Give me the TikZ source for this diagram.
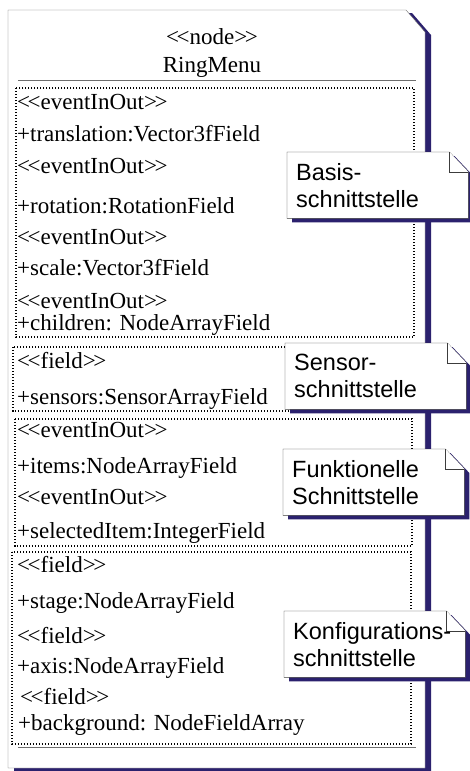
\documentclass[tikz,border=0pt]{standalone}
\usepackage{fontspec}
\setmainfont{Liberation Serif}
\newfontfamily\notizfont{Liberation Sans}
\usepackage{tikz}
\usetikzlibrary{positioning}
\usetikzlibrary{backgrounds}
\definecolor{schatten}{RGB}{43,33,110}
\definecolor{rahmen}{RGB}{110,110,110}
\definecolor{notizrand}{RGB}{60,60,60}
\newcommand{\stereo}[1]{<\kern-2.5pt<#1>\kern-2.5pt>}
\tikzset{
	notizrahmen/.pic = {
			\fill[schatten] ([shift={(5,4)}]#1.north west) -- ([shift={(-14,4)}]#1.north east) -- ([shift={(5,24)}]#1.north east) -- ([shift={(5,4)}]#1.south east) -- ([shift={(5,4)}]#1.south west) -- cycle;
			\draw[notizrand, fill=white] (#1.north west) -- ([xshift=-19pt]#1.north east) -- ([yshift=-20pt]#1.north east) -- (#1.south east) -- (#1.south west) -- cycle;
			\draw[notizrand, fill=white] ([xshift=-19pt]#1.north east) -- ([xshift=-19pt,yshift=-20pt]#1.north east) -- ([yshift=-20pt]#1.north east);
			}
		}

\begin{document}
\begin{tikzpicture}
		[x=1pt, y=-1pt,
		feld/.style = {anchor=base west, inner sep=0pt, font=\fontsize{23}{27}\selectfont},
		kopf/.style = {inner sep=0pt, font=\fontsize{23}{27}\selectfont},
		notiz/.style = {anchor=north west, inner xsep=9pt, inner ysep=0pt, minimum width=181pt, minimum height=66pt, text width=163pt, align=left, font=\notizfont\fontsize{23.5}{27}\selectfont},
		gruppe/.style = {draw=black, line width=1.3pt, dash pattern=on 1.4pt off 1.6pt}
		]
	\useasboundingbox (0,0) rectangle (469,771);

	% Kopf
	\node[kopf] (stereotyp) at (212,37) {\stereo{node}};
	\node[kopf] (name) at (212,67) {RingMenu};

	% Basisschnittstelle
	\node[feld] (b1) at (17,109) {\stereo{eventInOut}};
	\node[feld] (b2) at (17,141) {+translation:Vector3fField};
	\node[feld] (b3) at (17,173) {\stereo{eventInOut}};
	\node[feld] (b4) at (17,213) {+rotation:RotationField};
	\node[feld] (b5) at (17,244) {\stereo{eventInOut}};
	\node[feld] (b6) at (17,275) {+scale:Vector3fField};
	\node[feld] (b7) at (17,308) {\stereo{eventInOut}};
	\node[feld] (b8) at (17,330) {+children: NodeArrayField};

	% Sensorschnittstelle
	\node[feld] (s1) at (17,368) {\stereo{field}};
	\node[feld] (s2) at (17,404) {+sensors:SensorArrayField};

	% Funktionelle Schnittstelle
	\node[feld] (f1) at (17,437) {\stereo{eventInOut}};
	\node[feld] (f2) at (17,473) {+items:NodeArrayField};
	\node[feld] (f3) at (17,504) {\stereo{eventInOut}};
	\node[feld] (f4) at (17,538) {+selectedItem:IntegerField};

	% Konfigurationsschnittstelle
	\node[feld] (k1) at (17,572) {\stereo{field}};
	\node[feld] (k2) at (17,608) {+stage:NodeArrayField};
	\node[feld] (k3) at (17,643) {\stereo{field}};
	\node[feld] (k4) at (17,673) {+axis:NodeArrayField};
	\node[feld] (k5) at (20,704) {\stereo{field}};
	\node[feld] (k6) at (18,730) {+background: NodeFieldArray};

	% Notizen
	\node[notiz] (basis) at (287,152) {Basis-\\schnittstelle};
	\node[notiz] (sensor) at (285,343) {Sensor-\\schnittstelle};
	\node[notiz] (funktion) at (283,449) {Funktionelle\\Schnittstelle};
	\node[notiz] (konfig) at (284,611) {Konfigurations-\\schnittstelle};

	\begin{scope}[on background layer]
		% Klassenkasten mit Schatten
		\fill[schatten] (14,13) -- (412,13) -- (431,35) -- (431,771) -- (14,771) -- cycle;
		\draw[rahmen, fill=white] (8,10) -- (406,10) -- (425,32) -- (425,768) -- (8,768) -- cycle;
		\draw[rahmen] (18,80) -- (416,80);
		\draw[rahmen] (18,747) -- (416,747);

		\draw[gruppe] (16,88) rectangle (414,337);
		\draw[gruppe] (13,347) rectangle (412,411);
		\draw[gruppe] (15,419) rectangle (412,546);
		\draw[gruppe] (12,552) rectangle (411,744);

		\pic {notizrahmen=basis};
		\pic {notizrahmen=sensor};
		\pic {notizrahmen=funktion};
		\pic {notizrahmen=konfig};
	\end{scope}
\end{tikzpicture}
\end{document}
